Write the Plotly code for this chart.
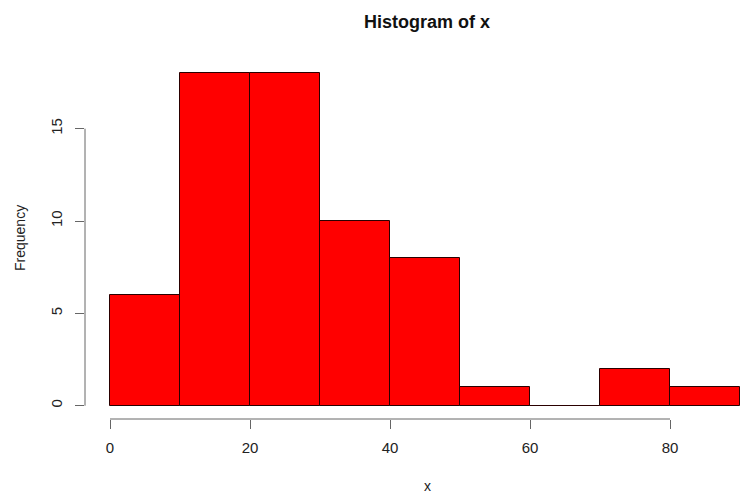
import plotly.graph_objects as go

# Histogram data (bin edges and counts)
bin_edges = [0, 10, 20, 30, 40, 50, 60, 70, 80, 90]
counts = [6, 18, 18, 10, 8, 1, 0, 2, 1]
x_ticks = [0, 20, 40, 60, 80]
y_ticks = [0, 5, 10, 15]

centers = [(a + b) / 2 for a, b in zip(bin_edges[:-1], bin_edges[1:])]
widths = [b - a for a, b in zip(bin_edges[:-1], bin_edges[1:])]

W, H = 743, 493
ml, mr, mt, mb = 85, 0, 60, 74

fig = go.Figure()
fig.add_trace(go.Bar(
    x=centers, y=counts, width=widths,
    marker=dict(color="#ff0000", line=dict(color="#2a0000", width=1)),
    hoverinfo="skip",
))

font = "Liberation Sans, Arial, sans-serif"
axis_col = "#666666"

fig.update_layout(
    width=W, height=H,
    margin=dict(l=ml, r=mr, t=mt, b=mb),
    plot_bgcolor="white", paper_bgcolor="white",
    showlegend=False,
    bargap=0,
    title=dict(text="<b>Histogram of x</b>", x=(427) / W, xanchor="center",
               y=1 - 22 / H, yanchor="middle", yref="container",
               font=dict(family=font, size=18, color="#111111")),
    xaxis=dict(range=[-25 / 7, 633 / 7], showgrid=False, zeroline=False,
               showline=False, tickmode="array", tickvals=x_ticks,
               ticks="outside", ticklen=9, tickcolor=axis_col, tickwidth=1,
               tickfont=dict(family=font, size=15, color="#222222"),
               ticklabelstandoff=6),
    yaxis=dict(range=[-0.72, 18.72], showgrid=False, zeroline=False,
               showline=False, tickmode="array", tickvals=y_ticks,
               ticks="outside", ticklen=9, tickcolor=axis_col, tickwidth=1,
               tickangle=-90,
               tickfont=dict(family=font, size=15, color="#222222"),
               ticklabelstandoff=7),
    shapes=[
        dict(type="line", xref="x", yref="paper", x0=min(x_ticks), x1=max(x_ticks),
             y0=0, y1=0, line=dict(color=axis_col, width=1)),
        dict(type="line", xref="paper", yref="y", x0=0, x1=0,
             y0=min(y_ticks), y1=max(y_ticks), line=dict(color=axis_col, width=1)),
    ],
    annotations=[
        dict(text="x", xref="paper", yref="paper",
             x=(427 - ml) / (W - ml - mr), y=(H - mb - 486) / (H - mt - mb),
             xanchor="center", yanchor="middle", showarrow=False,
             font=dict(family=font, size=14, color="#222222")),
        dict(text="Frequency", xref="paper", yref="paper",
             x=(20 - ml) / (W - ml - mr), y=(H - mb - 238) / (H - mt - mb),
             xanchor="center", yanchor="middle", showarrow=False, textangle=-90,
             font=dict(family=font, size=14, color="#222222")),
    ],
)

fig.write_html("out.html", config={"displayModeBar": False},
               post_script="document.body.style.margin='0';document.body.style.padding='0';document.body.style.overflow='hidden';")
